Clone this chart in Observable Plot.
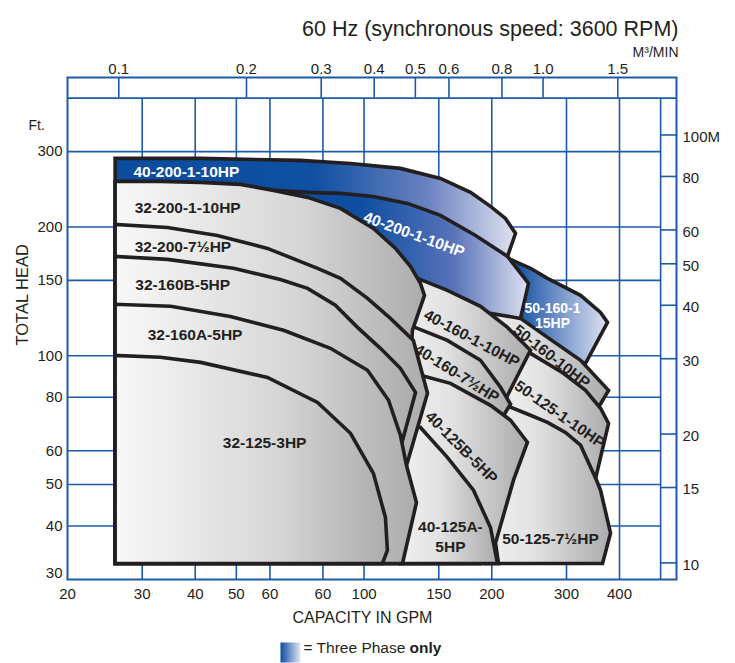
<!DOCTYPE html>
<html><head><meta charset="utf-8">
<script src="https://cdn.jsdelivr.net/npm/d3@7"></script>
<script src="https://cdn.jsdelivr.net/npm/@observablehq/plot@0.6"></script>
<style>
body{margin:0;background:#fff;}
#chart svg{display:block;}
</style></head><body><div id="chart"></div>
<script>
// ---- axis values ----
const gpmGrid=[30,40,50,60,80,100,150,200,300,400,500];
const ftGrid=[40,50,60,80,100,150,200,300,400];
const gpmTicks=[20,30,40,50,60,80,100,150,200,300,400];
const gpmTickLabels=["20","30","40","50","60","60","100","150","200","300","400"];
const ftTicks=[300,200,150,100,80,60,50,40];
const ftBottomTick=[30];
const m3Ticks=[0.1,0.2,0.3,0.4,0.5,0.6,0.8,1.0,1.5];
const m3TickLabels=["0.1","0.2","0.3","0.4","0.5","0.6","0.8","1.0","1.5"];
const meterTicks=[100,80,60,50,40,30,20,15,10];
const meterTickLabels=["100M","80","60","50","40","30","20","15","10"];
const GPM_PER_M3MIN=264.172, FT_PER_M=3.28084;

// ---- pump coverage regions [GPM, ft] ----
const pump50_160_1_15HP=[[204.1,114.7],[209.7,165.3],[221.4,168.0],[246.7,160.1],[270.6,151.7],[323.8,138.4],[360.9,126.3],[374.8,119.7],[332.7,96.0],[275.0,103.0]];
const pump40_200_1_10HP_top=[[25.9,134.7],[25.9,289.2],[41.2,289.2],[70.8,286.1],[92.9,281.5],[121.8,274.1],[151.4,259.7],[178.2,240.9],[198.6,223.4],[215.4,209.4],[227.5,193.2],[217.8,170.7],[121.8,134.7]];
const pump40_200_1_10HP_mid=[[48.4,207.2],[48.4,235.7],[61.2,243.5],[73.6,240.9],[88.0,239.6],[105.2,235.7],[126.6,227.0],[151.4,212.8],[183.1,191.1],[217.8,170.7],[244.1,147.6],[233.7,122.3],[198.6,114.7],[121.8,114.7]];
const pump50_160_10HP=[[178.2,70.7],[178.2,121.0],[198.6,125.6],[233.7,122.3],[270.6,110.4],[323.8,97.6],[376.9,83.0],[357.0,75.8],[290.3,70.7]];
const pump50_125_1_10HP=[[209.7,45.9],[209.7,103.0],[246.7,101.3],[295.1,91.0],[332.7,83.0],[360.9,75.4],[376.9,69.5],[347.4,49.3],[290.3,45.9]];
const pump50_125_7_5HP=[[193.3,32.7],[209.7,78.7],[221.4,75.8],[246.7,72.6],[270.6,69.9],[298.3,66.2],[323.8,61.8],[353.1,51.2],[360.9,48.5],[381.0,38.5],[364.8,32.7]];
const pump40_160_1_10HP=[[121.8,32.7],[118.6,158.3],[133.6,151.7],[157.2,142.2],[188.1,130.5],[217.8,116.5],[246.7,103.0],[216.6,79.9],[204.1,70.7],[188.1,32.7]];
const pump40_160_7_5HP=[[121.8,32.7],[121.8,119.7],[133.6,115.9],[157.2,108.6],[188.1,97.6],[209.7,84.4],[221.4,77.0],[209.7,70.7],[188.1,32.7]];
const pump40_125B_5HP=[[121.8,32.7],[125.2,91.5],[135.8,90.0],[159.8,86.2],[198.6,76.6],[221.4,70.7],[242.7,62.8],[225.0,51.2],[204.1,36.5],[207.4,32.7]];
const pump40_125A_5HP=[[121.8,32.7],[125.2,69.1],[135.8,68.0],[157.2,57.9],[181.1,48.5],[198.6,39.7],[206.3,32.7]];
const pump32_200_1_10HP=[[25.9,32.7],[25.9,255.6],[33.1,255.6],[41.2,254.2],[51.1,251.5],[61.2,243.5],[73.6,234.5],[88.0,221.0],[105.2,198.4],[118.6,178.2],[128.6,161.8],[135.8,147.6],[138.8,138.4],[130.0,114.7],[121.8,32.7]];
const pump32_200_7_5HP=[[25.9,32.7],[25.9,202.8],[34.4,199.5],[45.1,191.1],[59.2,178.2],[77.7,160.1],[88.0,151.7],[101.9,136.2],[115.4,122.3],[130.7,108.6],[141.1,81.7],[125.9,55.4],[120.5,32.7]];
const pump32_160B_5HP=[[25.9,32.7],[25.9,170.7],[34.4,168.0],[49.2,160.1],[63.5,150.8],[73.6,143.7],[85.6,131.2],[96.5,116.5],[109.3,104.1],[121.8,93.5],[132.2,82.1],[121.8,60.8],[118.6,32.7]];
const pump32_160A_5HP=[[25.9,32.7],[25.9,131.9],[35.0,130.5],[48.4,123.6],[64.6,114.7],[83.3,104.1],[101.9,92.5],[114.2,78.7],[121.8,65.2],[125.9,55.4],[132.9,45.4],[123.2,32.7]];
const pump32_125_3HP=[[25.9,32.7],[25.9,100.2],[33.1,99.2],[41.2,96.5],[59.2,89.0],[77.7,77.8],[92.9,65.9],[105.2,53.1],[112.3,41.9],[113.5,35.1],[110.5,32.7]];

// ---- region labels ----
const leftLabels=["40-200-1-10HP","32-200-1-10HP","32-200-7½HP","32-160B-5HP","32-160A-5HP"];
const leftLabelPos=[[28.6,268.3],[28.8,221.0],[28.8,179.2],[28.9,146.0],[30.9,111.6]];
const leftLabelColor=["white","#231f20","#231f20","#231f20","#231f20"];
const midLabels=["32-125-3HP","40-200-1-10HP","40-160-1-10HP","40-160-7½HP","50-160-10HP","50-125-1-10HP","40-125B-5HP","40-125A-\n5HP","50-125-7½HP"];
const midLabelPos=[[58.3,63.1],[131.5,193.2],[180.1,110.4],[166.0,91.5],[278.0,100.2],[290.3,73.4],[170.6,61.4],[159.8,38.0],[275.0,37.6]];
const midLabelAngle=[0,20,28,32,38,35,45,0,0];
const midLabelColor=["#231f20","white","#231f20","#231f20","#231f20","#231f20","#231f20","#231f20","#231f20"];
const smallLabel=["50-160-1\n15HP"];
const smallLabelPos=[[278.0,124.3]];

const BLUE="#1d5aa8", INK="#231f20";
const FONT="'Liberation Sans', Arial, Helvetica, sans-serif";
const xR=545, yT=447;

const regions=[
  [pump50_160_1_15HP,"url(#gBlueC)"],
  [pump40_200_1_10HP_top,"url(#gBlueA)"],
  [pump40_200_1_10HP_mid,"url(#gBlueB)"],
  [pump50_160_10HP,"url(#gGray2)"],
  [pump50_125_1_10HP,"url(#gGray2)"],
  [pump50_125_7_5HP,"url(#gGray2)"],
  [pump40_160_1_10HP,"url(#gGray2)"],
  [pump40_160_7_5HP,"url(#gGray2)"],
  [pump40_125B_5HP,"url(#gGray2)"],
  [pump40_125A_5HP,"url(#gGray2)"],
  [pump32_200_1_10HP,"url(#gGray)"],
  [pump32_200_7_5HP,"url(#gGray)"],
  [pump32_160B_5HP,"url(#gGray)"],
  [pump32_160A_5HP,"url(#gGray)"],
  [pump32_125_3HP,"url(#gGray)"]
];

const regionMarks=regions.map(([data,fill])=>Plot.line(data,{x:d=>d[0],y:d=>d[1],curve:"linear-closed",fill,stroke:INK,strokeWidth:3.6,strokeLinejoin:"miter",strokeMiterlimit:4}));

const plot=Plot.plot({
  width:735,height:663,
  marginLeft:67,marginRight:59,marginTop:77,marginBottom:84,
  x:{type:"log",domain:[20,xR],axis:null},
  y:{type:"log",domain:[30,yT],axis:null},
  style:{fontFamily:FONT,background:"#fff",color:INK},
  marks:[
    Plot.ruleX(gpmGrid,{x:d=>d,y1:30,y2:400,stroke:BLUE,strokeWidth:1.6}),
    Plot.ruleY(ftGrid,{y:d=>d,x1:20,x2:d=>d===400?xR:500,stroke:BLUE,strokeWidth:1.6}),
    Plot.ruleX(m3Ticks,{x:d=>d*GPM_PER_M3MIN,y1:400,y2:yT,stroke:BLUE,strokeWidth:1.6}),
    Plot.ruleY(meterTicks,{y:d=>d*FT_PER_M,x1:500,x2:xR,stroke:BLUE,strokeWidth:1.6}),
    Plot.frame({stroke:BLUE,strokeWidth:2}),
    ...regionMarks,
    Plot.text(leftLabels,{x:(d,i)=>leftLabelPos[i][0],y:(d,i)=>leftLabelPos[i][1],text:d=>d,textAnchor:"start",fontSize:15.5,fontWeight:"bold",fill:(d,i)=>leftLabelColor[i]}),
    Plot.text(midLabels,{x:(d,i)=>midLabelPos[i][0],y:(d,i)=>midLabelPos[i][1],text:d=>d,rotate:(d,i)=>midLabelAngle[i],fontSize:15.5,fontWeight:"bold",fill:(d,i)=>midLabelColor[i],lineHeight:1.3}),
    Plot.text(smallLabel,{x:(d,i)=>smallLabelPos[i][0],y:(d,i)=>smallLabelPos[i][1],text:d=>d,fontSize:14,fontWeight:"bold",fill:"white",lineHeight:1.1}),
    // left ft axis
    Plot.text(ftTicks,{x:20,y:d=>d,text:d=>String(d),dx:-5,textAnchor:"end",fontSize:15,fill:INK}),
    Plot.text(ftBottomTick,{x:20,y:d=>d,text:d=>String(d),dx:-5,dy:-6,textAnchor:"end",fontSize:15,fill:INK}),
    // bottom GPM axis
    Plot.text(gpmTicks,{x:d=>d,y:30,text:(d,i)=>gpmTickLabels[i],dy:15,fontSize:15,fill:INK}),
    // top m3/min axis
    Plot.text(m3Ticks,{x:d=>d*GPM_PER_M3MIN,y:yT,text:(d,i)=>m3TickLabels[i],dy:-8,fontSize:15,fill:INK}),
    // right meter axis
    Plot.text(meterTicks,{x:xR,y:d=>d*FT_PER_M,text:(d,i)=>meterTickLabels[i],dx:6,dy:2,textAnchor:"start",fontSize:15,fill:INK}),
    // titles
    Plot.text(["60 Hz (synchronous speed: 3600 RPM)"],{frameAnchor:"top-right",textAnchor:"end",dx:2,dy:-57,fontSize:21.5,fill:INK}),
    Plot.text(["M³/MIN"],{frameAnchor:"top-right",textAnchor:"end",dx:2,dy:-30,fontSize:14,fill:INK}),
    Plot.text(["Ft."],{frameAnchor:"top-left",dx:-39,dy:43,fontSize:14,fill:INK}),
    Plot.text(["TOTAL HEAD"],{frameAnchor:"left",rotate:-90,dx:-45,dy:17,fontSize:16.5,fill:INK}),
    Plot.text(["CAPACITY IN GPM"],{frameAnchor:"bottom",dx:-9.5,dy:43,fontSize:16,fill:INK}),
    // legend
    Plot.dot([0],{frameAnchor:"bottom-left",dx:223,dy:73,symbol:"square",r:11.3,fill:"url(#gLegend)",stroke:"none"}),
    Plot.text(["= Three Phase "],{frameAnchor:"bottom-left",textAnchor:"start",dx:236,dy:73,fontSize:15.5,fill:INK}),
    Plot.text(["only"],{frameAnchor:"bottom-left",textAnchor:"start",dx:342,dy:73,fontSize:15.5,fontWeight:"bold",fill:INK})
  ]
});
document.getElementById("chart").appendChild(plot);

// gradients used as fills
const defs=d3.select(plot).insert("defs",":first-child");
function grad(id,stops){
  const g=defs.append("linearGradient").attr("id",id).attr("x1",0).attr("x2",1).attr("y1",0).attr("y2",0);
  stops.forEach(([o,c])=>g.append("stop").attr("offset",o).attr("stop-color",c));
}
grad("gGray",[[0,"#f8f8f8"],[0.6,"#d6d6d7"],[1,"#acacae"]]);
grad("gGray2",[[0,"#f0f0f0"],[0.4,"#e2e2e3"],[1,"#ababad"]]);
grad("gBlueA",[[0,"#0b4c9e"],[0.5,"#1050a2"],[0.78,"#6a82c0"],[1,"#dfe1f1"]]);
grad("gBlueB",[[0,"#0b4c9e"],[0.45,"#0f4fa2"],[0.75,"#5873b8"],[1,"#dfe1f2"]]);
grad("gBlueC",[[0,"#0b4c9e"],[0.2,"#1753a5"],[1,"#e0e2f2"]]);
grad("gLegend",[[0,"#0b4c9e"],[1,"#e6e8f5"]]);
</script></body></html>
